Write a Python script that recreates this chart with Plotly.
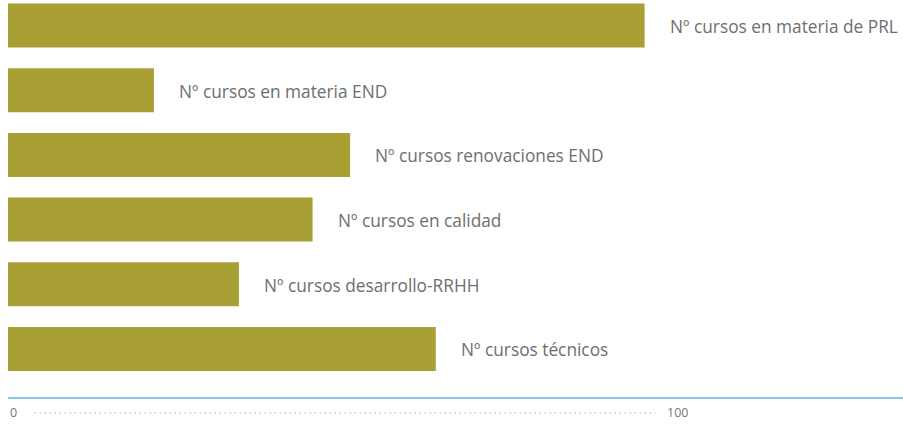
import plotly.graph_objects as go

categories = [
    "Nº cursos en materia de PRL",
    "Nº cursos en materia END",
    "Nº cursos renovaciones END",
    "Nº cursos en calidad",
    "Nº cursos desarrollo-RRHH",
    "Nº cursos técnicos",
]
values = [95.1, 21.8, 51.1, 45.5, 34.5, 63.9]
tick_values = [0, 100]
tick_labels = ["0", "100"]

BAR = "#A8A035"
TXT = "#6e6e6e"
FONT = "Open Sans"

positions = list(range(len(categories)))

fig = go.Figure()
fig.add_trace(go.Bar(
    x=values, y=positions, orientation="h",
    marker=dict(color=BAR, line=dict(width=0)),
    width=0.68, hoverinfo="skip",
))

for p, v, c in zip(positions, values, categories):
    fig.add_annotation(x=v, y=p, text=c, showarrow=False, xanchor="left",
                       yanchor="middle", xshift=23, yshift=-1,
                       font=dict(family=FONT, size=17.3, color=TXT))

# bottom scale: 0 ..... 100
fig.add_annotation(x=tick_values[0], y=-0.04, xref="x", yref="paper",
                   text=tick_labels[0], showarrow=False, xanchor="center",
                   yanchor="middle", xshift=5,
                   font=dict(family=FONT, size=12.5, color="#777777"))
fig.add_annotation(x=tick_values[1], y=-0.04, xref="x", yref="paper",
                   text=tick_labels[1], showarrow=False, xanchor="center",
                   yanchor="middle",
                   font=dict(family=FONT, size=12.5, color="#777777"))
fig.add_shape(type="line", xref="x", yref="paper",
              x0=4.0, x1=96.7, y0=-0.0403, y1=-0.0403,
              line=dict(color="#8a8a8a", width=1, dash="1px,4px"))

fig.update_layout(
    width=903, height=425,
    margin=dict(l=8, r=0, t=0, b=28),
    paper_bgcolor="white", plot_bgcolor="white",
    showlegend=False,
    xaxis=dict(range=[0, 133.7], showgrid=False, zeroline=False,
               showticklabels=False, ticks="",
               showline=True, linecolor="#86c8e6", linewidth=2,
               fixedrange=True),
    yaxis=dict(range=[5.742, -0.394], showgrid=False, zeroline=False,
               showticklabels=False, ticks="", showline=False,
               fixedrange=True),
)

fig.write_html("out.html", config={"displayModeBar": False},
               post_script="document.body.style.margin='0';document.body.style.overflow='hidden';")
